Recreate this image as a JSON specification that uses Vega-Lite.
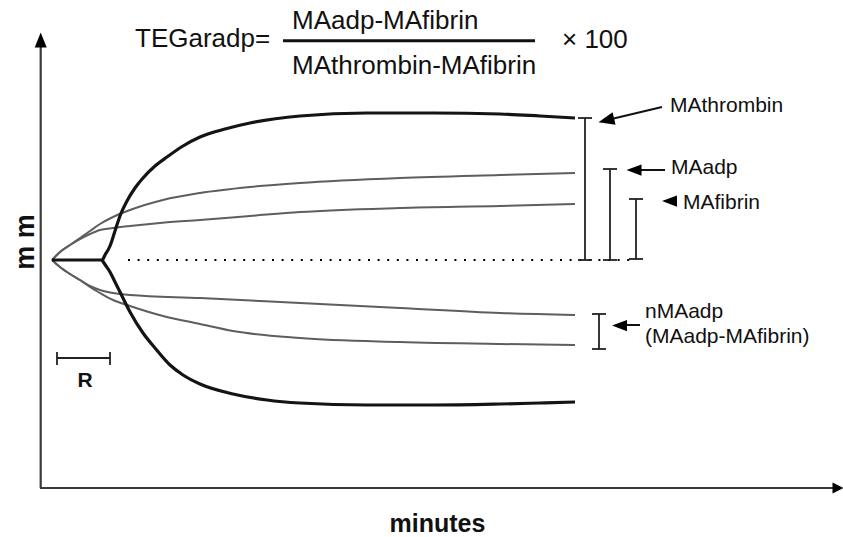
{
  "$schema": "https://vega.github.io/schema/vega-lite/v6.json",
  "width": 843,
  "height": 537,
  "padding": 0,
  "autosize": {"type": "none"},
  "background": "white",
  "config": {"view": {"stroke": null}, "text": {"font": "Liberation Sans"}},
  "datasets": {
    "axes": [
      {"t": 0.07, "mm": -45.6, "t2": 0.07, "mm2": 42.6},
      {"t": 0, "mm": -45.6, "t2": 79.3, "mm2": -45.6}
    ],
    "headUp": [{"t": 0.07, "mm": 44.0}],
    "headRight": [{"t": 79.8, "mm": -45.6}],
    "thrombin": [
      {"series": "up", "t": 1.2, "mm": 0}, {"series": "up", "t": 6.2, "mm": 0}, {"series": "up", "t": 6.5, "mm": 1.0},
      {"series": "up", "t": 7.0, "mm": 2.8}, {"series": "up", "t": 7.5, "mm": 5.8}, {"series": "up", "t": 8.0, "mm": 8.8},
      {"series": "up", "t": 8.7, "mm": 11.8}, {"series": "up", "t": 9.5, "mm": 14.4}, {"series": "up", "t": 10.3, "mm": 16.4},
      {"series": "up", "t": 11.5, "mm": 18.8}, {"series": "up", "t": 12.7, "mm": 20.6}, {"series": "up", "t": 14.3, "mm": 22.8},
      {"series": "up", "t": 16, "mm": 24.6}, {"series": "up", "t": 18.5, "mm": 26.2}, {"series": "up", "t": 21, "mm": 27.4},
      {"series": "up", "t": 26, "mm": 28.8}, {"series": "up", "t": 32.7, "mm": 29.4}, {"series": "up", "t": 39.3, "mm": 29.4},
      {"series": "up", "t": 46, "mm": 29.2}, {"series": "up", "t": 50, "mm": 28.8}, {"series": "up", "t": 53.5, "mm": 28.4},
      {"series": "down", "t": 6.2, "mm": 0}, {"series": "down", "t": 6.6, "mm": -1.2}, {"series": "down", "t": 7.0, "mm": -2.4},
      {"series": "down", "t": 7.5, "mm": -4.4}, {"series": "down", "t": 8.0, "mm": -6.4}, {"series": "down", "t": 9.0, "mm": -10.4},
      {"series": "down", "t": 10.3, "mm": -14.6}, {"series": "down", "t": 11.5, "mm": -17.6}, {"series": "down", "t": 13, "mm": -21},
      {"series": "down", "t": 14.3, "mm": -23}, {"series": "down", "t": 16, "mm": -24.8}, {"series": "down", "t": 19.3, "mm": -26.8},
      {"series": "down", "t": 22.7, "mm": -28}, {"series": "down", "t": 26, "mm": -28.6}, {"series": "down", "t": 32.7, "mm": -29},
      {"series": "down", "t": 39.3, "mm": -29}, {"series": "down", "t": 46, "mm": -28.8}, {"series": "down", "t": 50, "mm": -28.6},
      {"series": "down", "t": 53.5, "mm": -28.4}
    ],
    "gray": [
      {"series": "adpUp", "t": 1.2, "mm": 0}, {"series": "adpUp", "t": 2, "mm": 1.6}, {"series": "adpUp", "t": 3, "mm": 3},
      {"series": "adpUp", "t": 4, "mm": 4.4}, {"series": "adpUp", "t": 5, "mm": 5.8}, {"series": "adpUp", "t": 6, "mm": 7.2},
      {"series": "adpUp", "t": 7.3, "mm": 8.6}, {"series": "adpUp", "t": 9, "mm": 10}, {"series": "adpUp", "t": 12.3, "mm": 12},
      {"series": "adpUp", "t": 16, "mm": 13.4}, {"series": "adpUp", "t": 21, "mm": 14.6}, {"series": "adpUp", "t": 26, "mm": 15.4},
      {"series": "adpUp", "t": 36, "mm": 16.4}, {"series": "adpUp", "t": 46, "mm": 17}, {"series": "adpUp", "t": 53.5, "mm": 17.4},
      {"series": "fibUp", "t": 1.2, "mm": 0}, {"series": "fibUp", "t": 2, "mm": 1.6}, {"series": "fibUp", "t": 3, "mm": 3},
      {"series": "fibUp", "t": 4, "mm": 4.2}, {"series": "fibUp", "t": 5, "mm": 5.2}, {"series": "fibUp", "t": 6, "mm": 6},
      {"series": "fibUp", "t": 7.3, "mm": 6.4}, {"series": "fibUp", "t": 9, "mm": 6.8}, {"series": "fibUp", "t": 12, "mm": 7.4},
      {"series": "fibUp", "t": 16, "mm": 8}, {"series": "fibUp", "t": 21, "mm": 8.8}, {"series": "fibUp", "t": 26, "mm": 9.6},
      {"series": "fibUp", "t": 36, "mm": 10.4}, {"series": "fibUp", "t": 46, "mm": 10.8}, {"series": "fibUp", "t": 53.5, "mm": 11.2},
      {"series": "fibDown", "t": 1.2, "mm": 0}, {"series": "fibDown", "t": 2, "mm": -1.4}, {"series": "fibDown", "t": 3, "mm": -2.8},
      {"series": "fibDown", "t": 4, "mm": -4}, {"series": "fibDown", "t": 5, "mm": -5.2}, {"series": "fibDown", "t": 6, "mm": -6},
      {"series": "fibDown", "t": 7.3, "mm": -6.6}, {"series": "fibDown", "t": 9, "mm": -7}, {"series": "fibDown", "t": 16, "mm": -7.6},
      {"series": "fibDown", "t": 26, "mm": -8.6}, {"series": "fibDown", "t": 36, "mm": -9.6}, {"series": "fibDown", "t": 46, "mm": -10.6},
      {"series": "fibDown", "t": 53.5, "mm": -11},
      {"series": "adpDown", "t": 1.2, "mm": 0}, {"series": "adpDown", "t": 2, "mm": -1.4}, {"series": "adpDown", "t": 3, "mm": -2.8},
      {"series": "adpDown", "t": 4, "mm": -4}, {"series": "adpDown", "t": 5, "mm": -5.4}, {"series": "adpDown", "t": 6, "mm": -6.6},
      {"series": "adpDown", "t": 7.3, "mm": -8}, {"series": "adpDown", "t": 9, "mm": -9.2}, {"series": "adpDown", "t": 12.3, "mm": -11.2},
      {"series": "adpDown", "t": 16, "mm": -12.8}, {"series": "adpDown", "t": 19.3, "mm": -14.2}, {"series": "adpDown", "t": 26, "mm": -15.6},
      {"series": "adpDown", "t": 36, "mm": -16.4}, {"series": "adpDown", "t": 46, "mm": -16.8}, {"series": "adpDown", "t": 53.5, "mm": -17}
    ],
    "baseline": [{"t": 8.8, "mm": 0, "t2": 59.5, "mm2": 0}],
    "brackets": [
      {"t": 54.5, "mm": 28.4, "t2": 54.5, "mm2": 0},
      {"t": 57, "mm": 18.2, "t2": 57, "mm2": 0},
      {"t": 59.6, "mm": 12.2, "t2": 59.6, "mm2": 0.2},
      {"t": 55.9, "mm": -10.8, "t2": 55.9, "mm2": -17.8},
      {"t": 53.8, "mm": 28.4, "t2": 55.2, "mm2": 28.4},
      {"t": 53.8, "mm": 0, "t2": 55.2, "mm2": 0},
      {"t": 56.3, "mm": 18.2, "t2": 57.7, "mm2": 18.2},
      {"t": 56.3, "mm": 0, "t2": 57.7, "mm2": 0},
      {"t": 58.9, "mm": 12.2, "t2": 60.3, "mm2": 12.2},
      {"t": 58.9, "mm": 0.2, "t2": 60.3, "mm2": 0.2},
      {"t": 55.2, "mm": -10.8, "t2": 56.6, "mm2": -10.8},
      {"t": 55.2, "mm": -17.8, "t2": 56.6, "mm2": -17.8},
      {"t": 1.7, "mm": -19.6, "t2": 7.0, "mm2": -19.6},
      {"t": 1.7, "mm": -18.4, "t2": 1.7, "mm2": -21},
      {"t": 7.0, "mm": -18.4, "t2": 7.0, "mm2": -21}
    ],
    "fraction": [{"t": 24.3, "mm": 43.86, "t2": 49.5, "mm2": 43.86}],
    "arrowLines": [
      {"t": 62.2, "mm": 30.6, "t2": 57.36, "mm2": 28.3},
      {"t": 62.5, "mm": 18, "t2": 60.1, "mm2": 18},
      {"t": 60.0, "mm": -13, "t2": 58.7, "mm2": -13}
    ],
    "headsLeft": [
      {"t": 59.4, "mm": 18},
      {"t": 62.95, "mm": 11.8},
      {"t": 57.95, "mm": -13.1}
    ],
    "headThrombin": [{"t": 56.63, "mm": 27.94}],
    "formula": [
      {"label": "TEGaradp=", "t": 9.5, "mm": 42.6},
      {"label": "MAadp-MAfibrin", "t": 25.2, "mm": 46.2},
      {"label": "MAthrombin-MAfibrin", "t": 25.2, "mm": 37.2},
      {"label": "× 100", "t": 52.2, "mm": 42.4}
    ],
    "labels": [
      {"label": "MAthrombin", "t": 63.0, "mm": 29.6},
      {"label": "MAadp", "t": 63.1, "mm": 17.3},
      {"label": "MAfibrin", "t": 64.3, "mm": 10.3},
      {"label": "nMAadp", "t": 60.5, "mm": -11.6},
      {"label": "(MAadp-MAfibrin)", "t": 60.5, "mm": -16.5}
    ],
    "rLabel": [{"label": "R", "t": 4.5, "mm": -25.4}],
    "xLabel": [{"label": "minutes", "t": 39.75, "mm": -54.4}],
    "yLabel": [{"label": "m m", "t": -1.45, "mm": 3.6}]
  },
  "encoding": {
    "x": {"field": "t", "type": "quantitative", "scale": {"domain": [-4, 80.3], "nice": false, "zero": false}, "axis": null},
    "y": {"field": "mm", "type": "quantitative", "scale": {"domain": [-55.4, 52], "nice": false, "zero": false}, "axis": null}
  },
  "layer": [
    {"data": {"name": "axes"}, "mark": {"type": "rule", "color": "#3a3a3a", "strokeWidth": 2.2},
     "encoding": {"x2": {"field": "t2"}, "y2": {"field": "mm2"}}},
    {"data": {"name": "headUp"}, "mark": {"type": "point", "shape": "M0,-1L0.8,1L-0.8,1Z", "filled": true, "color": "black", "opacity": 1, "size": 225}},
    {"data": {"name": "headRight"}, "mark": {"type": "point", "shape": "M1,0L-1,-1L-1,1Z", "filled": true, "color": "black", "opacity": 1, "size": 121}},
    {"data": {"name": "gray"}, "mark": {"type": "line", "color": "#5e5e5e", "strokeWidth": 2, "interpolate": "monotone"},
     "encoding": {"detail": {"field": "series"}}},
    {"data": {"name": "thrombin"}, "mark": {"type": "line", "color": "#141414", "strokeWidth": 3.2, "interpolate": "monotone"},
     "encoding": {"detail": {"field": "series"}}},
    {"data": {"name": "baseline"}, "mark": {"type": "rule", "color": "black", "strokeWidth": 2.2, "strokeDash": [2, 7.6]},
     "encoding": {"x2": {"field": "t2"}, "y2": {"field": "mm2"}}},
    {"data": {"name": "brackets"}, "mark": {"type": "rule", "color": "#222222", "strokeWidth": 1.8},
     "encoding": {"x2": {"field": "t2"}, "y2": {"field": "mm2"}}},
    {"data": {"name": "fraction"}, "mark": {"type": "rule", "color": "#111111", "strokeWidth": 3},
     "encoding": {"x2": {"field": "t2"}, "y2": {"field": "mm2"}}},
    {"data": {"name": "arrowLines"}, "mark": {"type": "rule", "color": "#111111", "strokeWidth": 2},
     "encoding": {"x2": {"field": "t2"}, "y2": {"field": "mm2"}}},
    {"data": {"name": "headsLeft"}, "mark": {"type": "point", "shape": "M-1,0L1,-0.75L1,0.75Z", "filled": true, "color": "black", "opacity": 1, "size": 225}},
    {"data": {"name": "headThrombin"}, "mark": {"type": "point", "shape": "M-1,0L1,-0.8L1,0.8Z", "filled": true, "color": "black", "opacity": 1, "size": 256, "angle": 346.6}},
    {"data": {"name": "formula"}, "mark": {"type": "text", "align": "left", "baseline": "alphabetic", "fontSize": 26, "color": "#111111", "font": "Liberation Sans"},
     "encoding": {"text": {"field": "label"}}},
    {"data": {"name": "labels"}, "mark": {"type": "text", "align": "left", "baseline": "alphabetic", "fontSize": 21, "color": "#111111", "font": "Liberation Sans"},
     "encoding": {"text": {"field": "label"}}},
    {"data": {"name": "rLabel"}, "mark": {"type": "text", "align": "center", "baseline": "alphabetic", "fontSize": 21, "fontWeight": "bold", "color": "#111111", "font": "Liberation Sans"},
     "encoding": {"text": {"field": "label"}}},
    {"data": {"name": "xLabel"}, "mark": {"type": "text", "align": "center", "baseline": "alphabetic", "fontSize": 25, "fontWeight": "bold", "color": "#111111", "font": "Liberation Sans"},
     "encoding": {"text": {"field": "label"}}},
    {"data": {"name": "yLabel"}, "mark": {"type": "text", "align": "center", "baseline": "middle", "angle": 270, "fontSize": 27, "fontWeight": "bold", "color": "#111111", "font": "Liberation Sans"},
     "encoding": {"text": {"field": "label"}}}
  ]
}
